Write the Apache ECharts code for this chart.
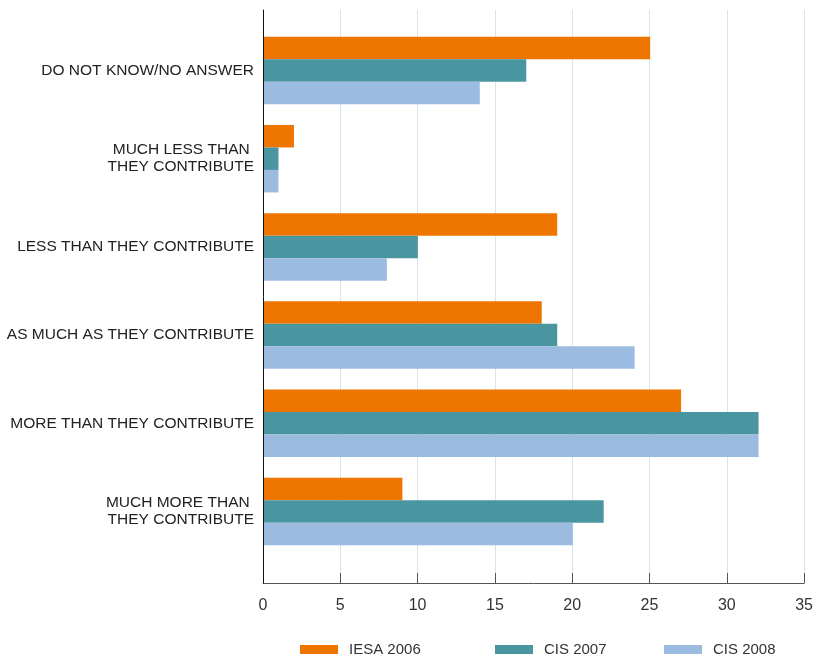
<!DOCTYPE html>
<html><head><meta charset="utf-8">
<script src="https://cdn.jsdelivr.net/npm/echarts@6/dist/echarts.min.js"></script>
<style>html,body{margin:0;padding:0;background:#fff}#c{width:816px;height:657px}</style>
</head><body><div id="c"></div>
<script>
const categories = ["DO NOT KNOW/NO ANSWER","MUCH LESS THAN \nTHEY CONTRIBUTE","LESS THAN THEY CONTRIBUTE","AS MUCH AS THEY CONTRIBUTE","MORE THAN THEY CONTRIBUTE","MUCH MORE THAN \nTHEY CONTRIBUTE"];
const seriesNames = ["IESA 2006","CIS 2007","CIS 2008"];
const iesa2006 = [25,2,19,18,27,9];
const cis2007 = [17,1,10,19,32,22];
const cis2008 = [14,1,8,24,32,20];
const xTicks = [0,5,10,15,20,25,30,35];
const colors = ["#EE7600","#4A96A0","#9BBBE0"];
const font = "Liberation Sans";
const chart = echarts.init(document.getElementById('c'));
const L = 263, R = 11;
const legendText = {fontSize:15,color:'#333',fontFamily:font,padding:[0,0,0,6]};
chart.setOption({
  animation:false,
  textStyle:{fontFamily:font},
  grid:[
    {left:L,right:R,top:10,bottom:74},
    {left:L,right:R,top:26.4,bottom:101.4}
  ],
  xAxis:[
    {gridIndex:0,type:'value',min:xTicks[0],max:xTicks[xTicks.length-1],interval:5,
     axisLine:{show:true,lineStyle:{color:'#555',width:1}},
     axisTick:{show:true,inside:true,length:10,lineStyle:{color:'#555'}},
     axisLabel:{color:'#333',fontSize:16,margin:15,fontFamily:font},
     splitLine:{show:true,lineStyle:{color:'#d3e6ea',width:1}}},
    {gridIndex:1,type:'value',min:0,max:35,show:false}
  ],
  yAxis:[
    {gridIndex:0,type:'value',min:0,max:1,z:5,axisLine:{show:true,onZero:false,lineStyle:{color:'#111',width:1}},axisTick:{show:false},axisLabel:{show:false},splitLine:{show:false}},
    {gridIndex:1,type:'category',inverse:true,data:categories,
     axisLine:{show:false},axisTick:{show:false},
     axisLabel:{color:'#222',fontSize:15.5,margin:9,align:'right',lineHeight:17,padding:[5,0,0,0],fontFamily:font}}
  ],
  legend:[
    {data:[seriesNames[0]],left:295,top:637,itemWidth:38,itemHeight:9,textStyle:legendText,icon:'rect'},
    {data:[seriesNames[1]],left:490,top:637,itemWidth:38,itemHeight:9,textStyle:legendText,icon:'rect'},
    {data:[seriesNames[2]],left:659,top:637,itemWidth:38,itemHeight:9,textStyle:legendText,icon:'rect'}
  ],
  series:[iesa2006,cis2007,cis2008].map((d,i)=>({
    name:seriesNames[i],type:'bar',xAxisIndex:1,yAxisIndex:1,data:d,
    barGap:'0%',barCategoryGap:'23.5%',itemStyle:{color:colors[i]}
  }))
});
</script></body></html>
